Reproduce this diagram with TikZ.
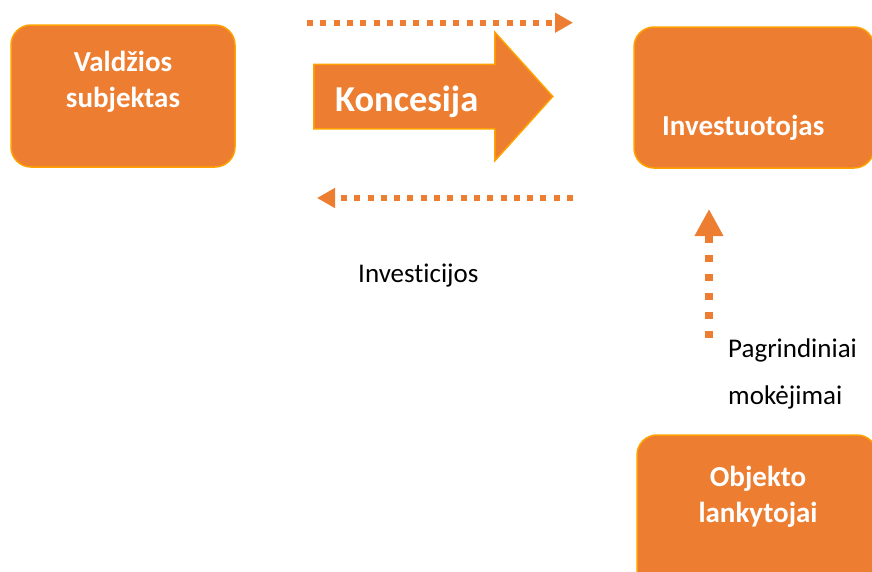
\documentclass[tikz,border=0pt]{standalone}
\usepackage{fontspec}
\setmainfont{Carlito}[Ligatures=NoCommon]
\usetikzlibrary{arrows.meta,shapes.arrows}
\definecolor{boxfill}{HTML}{ED7D31}
\definecolor{boxedge}{HTML}{FFA200}
\begin{document}
\begin{tikzpicture}[x=1pt,y=-1pt,>={Triangle[length=18pt,width=19pt]},
                    main node/.style={rectangle,rounded corners=20pt,draw=boxedge,fill=boxfill,
                                      line width=1.5pt,inner sep=0pt},
                    box text/.style={text=white,inner sep=0pt,align=center,
                                     font=\bfseries\fontsize{29}{36}\selectfont},
                    flow label/.style={inner sep=0pt,anchor=base west,
                                       font=\fontsize{27}{47}\selectfont},
                    flow/.style={color=boxfill,line width=6pt,dash pattern=on 6pt off 7.3pt}]
\useasboundingbox (0,0) rectangle (872,571);

\node[main node,minimum width=224pt,minimum height=142pt] (1) at (123,96) {};
\node[box text,anchor=base] (1a) at (123,107) {Valdžios\\subjektas};

\node[main node,minimum width=240pt,minimum height=141pt] (2) at (754,97.5) {};
\node[box text,anchor=base west] (2a) at (662,135) {Investuotojas};

\node[main node,minimum width=240pt,minimum height=170pt] (3) at (757,520) {};
\node[box text,anchor=base] (3a) at (758,522) {Objekto\\lankytojai};

\node[single arrow,draw=boxedge,fill=boxfill,line width=1.5pt,text=white,
      font=\bfseries\fontsize{36.5}{40}\selectfont,inner xsep=11pt,inner ysep=15.5pt,
      text height=31pt,text depth=1pt,minimum height=239pt,minimum width=127pt,
      single arrow head extend=32pt,single arrow tip angle=96,anchor=tail] (4) at (313,96.5) {Koncesija\hspace*{24pt}};

\coordinate (5) at (307,22.7);
\coordinate (6) at (573,22.7);
\coordinate (7) at (573,198);
\coordinate (8) at (317,198);
\coordinate (9) at (709,338);
\coordinate (10) at (709,209);

\path[flow]
  (5) edge[->] (6)
  (7) edge[->] (8);
\draw[flow,line width=8.5pt,dash pattern=on 7pt off 12pt,
      -{Triangle[length=27pt,width=27pt]}] (9) -- (10);

\node[flow label] (11) at (358,282) {Investicijos};
\node[flow label,align=left] (12) at (728,404) {Pagrindiniai\\mokėjimai};

\end{tikzpicture}
\end{document}
